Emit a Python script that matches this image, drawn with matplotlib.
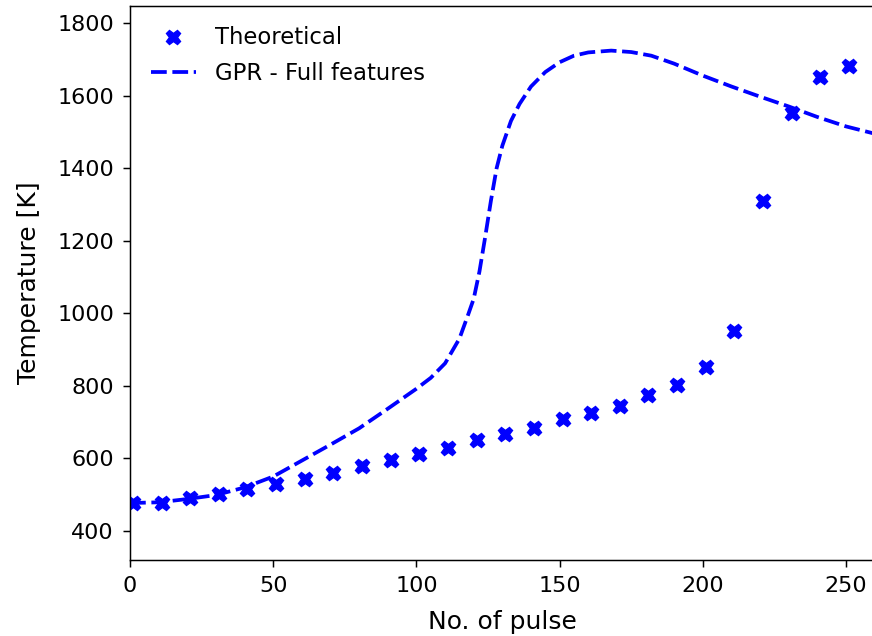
import numpy as np
import matplotlib.pyplot as plt

# theoretical temperature, every 10th pulse
pulse = [1, 11, 21, 31, 41, 51, 61, 71, 81, 91, 101, 111, 121, 131, 141,
         151, 161, 171, 181, 191, 201, 211, 221, 231, 241, 251]
temp_theory = [477, 478, 491, 502, 516, 529, 543, 560, 579, 596, 612, 629,
               651, 667, 684, 709, 725, 745, 774, 803, 853, 950, 1309, 1551,
               1651, 1682]

# GPR prediction using all features
gpr_pulse = [0, 10, 20, 30, 40, 50, 60, 70, 80, 90, 100, 105, 110, 115, 118,
             120, 122, 124, 126, 128, 130, 133, 136, 140, 145, 150, 155, 160,
             168, 175, 182, 190, 200, 210, 220, 230, 240, 250, 260]
gpr_temp = [477, 479, 488, 499, 520, 550, 594, 638, 683, 737, 792, 822, 862,
            930, 995, 1040, 1115, 1210, 1310, 1400, 1462, 1530, 1577, 1625,
            1665, 1692, 1710, 1719, 1724, 1720, 1710, 1688, 1655, 1625, 1597,
            1570, 1541, 1515, 1495]

fig = plt.figure(figsize=(8.72, 6.36), dpi=100)
ax = fig.add_axes([0.1491, 0.1195, 0.854, 0.8711])

ax.plot(pulse, temp_theory, 'X', color='blue', markersize=10.5, linestyle='none',
        label='Theoretical')
ax.plot(gpr_pulse, gpr_temp, '--', color='blue', linewidth=2.7,
        dashes=(4.2, 1.5), label='GPR - Full features')

ax.set_xlim(0, 260)
ax.set_ylim(320, 1847)
ax.set_xticks([0, 50, 100, 150, 200, 250])
ax.set_yticks(np.arange(400, 1801, 200))
ax.tick_params(labelsize=16, length=5, width=1.07, pad=6.5)
for s in ax.spines.values():
    s.set_linewidth(1.07)

ax.set_xlabel('No. of pulse', fontsize=18, labelpad=10)
ax.set_ylabel('Temperature [K]', fontsize=18, labelpad=12)
ax.legend(loc='upper left', frameon=False, fontsize=16.4, handlelength=2.0,
          labelspacing=0.55, handletextpad=0.85, borderaxespad=0.5)

plt.savefig('out.png', dpi=100)
plt.close()
